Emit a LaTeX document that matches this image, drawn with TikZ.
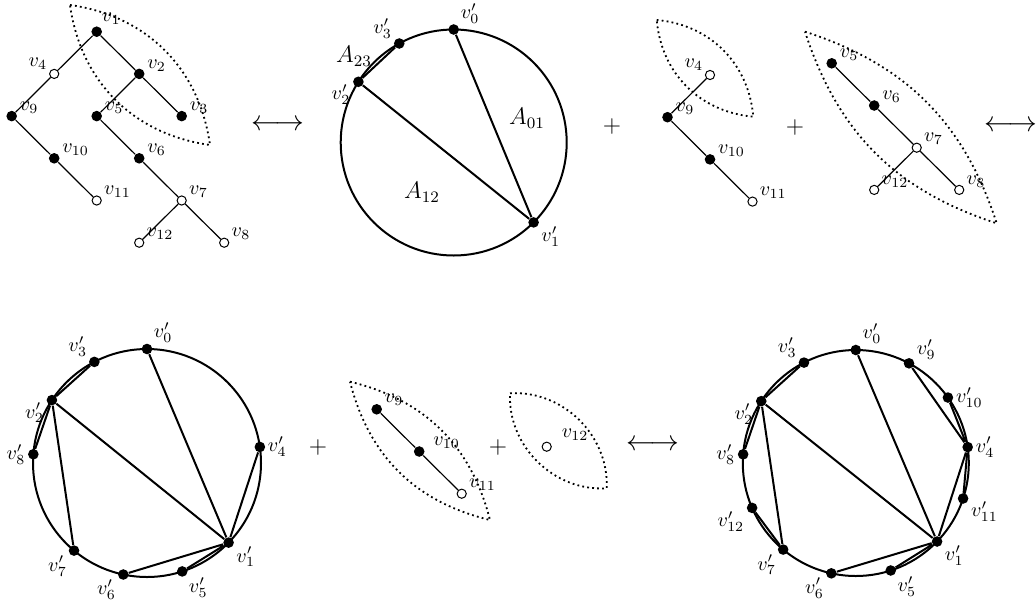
\documentclass[tikz,border=0pt]{standalone}
\usepackage{amsmath}
\usetikzlibrary{positioning}

\begin{document}
\begin{tikzpicture}[x=0.5pt,y=-0.5pt,node distance=21.1pt and 21.25pt,on grid,
        fdot/.style={circle,fill=black,inner sep=0pt,minimum size=5.3pt},
        odot/.style={circle,draw,fill=white,inner sep=0pt,minimum size=4.6pt,line width=0.5pt},
        tedge/.style={line width=0.6pt},
        cedge/.style={line width=1pt},
        lens/.style={line width=0.9pt,dash pattern=on 0.9pt off 1.6pt},
        every label/.style={inner sep=1pt}]
        \useasboundingbox (0,0) rectangle (1036,600);

        % first tree
        \node (a1) [fdot,label=60:$v_1$] at (96.7,31.7) {};
        \node (a4) [odot,label=155:$v_4$,below left=of a1] {};
        \node (a2) [fdot,label=5:$v_2$,below right=of a1] {};
        \node (a9) [fdot,label=5:$v_9$,below left=of a4] {};
        \node (a5) [fdot,label=5:$v_5$,below left=of a2] {};
        \node (a3) [fdot,label=5:$v_3$,below right=of a2] {};
        \node (a10) [fdot,label=5:$v_{10}$,below right=of a9] {};
        \node (a6) [fdot,label=5:$v_6$,below right=of a5] {};
        \node (a11) [odot,label=5:$v_{11}$,below right=of a10] {};
        \node (a7) [odot,label=5:$v_7$,below right=of a6] {};
        \node (a12) [odot,label=5:$v_{12}$,below left=of a7] {};
        \node (a8) [odot,label=5:$v_8$,below right=of a7] {};
        \draw[tedge] (a1) -- (a4) (a1) -- (a2) (a4) -- (a9) (a2) -- (a5) (a2) -- (a3);
        \draw[tedge] (a9) -- (a10) (a10) -- (a11) (a5) -- (a6) (a6) -- (a7) (a7) -- (a12) (a7) -- (a8);
        \draw[lens] (70,5) to[bend left=37] (210,145) to[bend left=37] (70,5);

        \node (arr1) [font=\Large] at (278,125) {$\longleftrightarrow$};

        % first circle
        \begin{scope}[shift={(453.7,142.5)}]
            \draw[cedge] (0,0) circle (56.5pt);
            \node (p0) [fdot,label=35:$v'_0$] at (90:56.5pt) {};
            \node (p3) [fdot,label=150:$v'_3$] at (118.8:56.5pt) {};
            \node (p2) [fdot,label=185:$v'_2$] at (147.5:56.5pt) {};
            \node (p1) [fdot,label=-20:$v'_1$] at (-45:56.5pt) {};
        \end{scope}
        \draw[cedge] (p0) -- (p1) (p2) -- (p1) (p2) -- (p3);
        \node (a23) [font=\large] at (354,56) {$A_{23}$};
        \node (a01) [font=\large] at (527,118) {$A_{01}$};
        \node (a12l) [font=\large] at (422,192) {$A_{12}$};

        \node (plus1) [font=\large] at (612,126) {$+$};

        % second tree
        \node (b4) [odot,label=150:$v_4$] at (710,75) {};
        \node (b9) [fdot,label=5:$v_9$,below left=of b4] {};
        \node (b10) [fdot,label=5:$v_{10}$,below right=of b9] {};
        \node (b11) [odot,label=5:$v_{11}$,below right=of b10] {};
        \draw[tedge] (b4) -- (b9) (b9) -- (b10) (b10) -- (b11);
        \draw[lens] (656.7,20) to[bend left=40] (753.3,116.7) to[bend left=40] (656.7,20);

        \node (plus2) [font=\large] at (795,127) {$+$};

        % third tree
        \node (c5) [fdot,label=5:$v_5$] at (831.7,63.3) {};
        \node (c6) [fdot,label=5:$v_6$,below right=of c5] {};
        \node (c7) [odot,label=5:$v_7$,below right=of c6] {};
        \node (c12) [odot,label=5:$v_{12}$,below left=of c7] {};
        \node (c8) [odot,label=5:$v_8$,below right=of c7] {};
        \draw[tedge] (c5) -- (c6) (c6) -- (c7) (c7) -- (c12) (c7) -- (c8);
        \draw[lens] (805,31.7) to[bend left=27] (996.7,223.3) to[bend left=27] (805,31.7);

        \node (arr2) [font=\Large] at (1011,126) {$\longleftrightarrow$};

        % second circle
        \begin{scope}[shift={(147,463)}]
            \draw[cedge] (0,0) circle (57pt);
            \node (q0) [fdot,label=40:$v'_0$] at (90:57pt) {};
            \node (q3) [fdot,label=150:$v'_3$] at (117.5:57pt) {};
            \node (q2) [fdot,label=185:$v'_2$] at (146.5:57pt) {};
            \node (q8) [fdot,label=180:$v'_8$] at (175.6:57pt) {};
            \node (q7) [fdot,label=212:$v'_7$] at (230.2:57pt) {};
            \node (q6) [fdot,label=205:$v'_6$] at (258:57pt) {};
            \node (q5) [fdot,label=-40:$v'_5$] at (288:57pt) {};
            \node (q1) [fdot,label=-20:$v'_1$] at (-44.3:57pt) {};
            \node (q4) [fdot,label=0:$v'_4$] at (8.1:57pt) {};
        \end{scope}
        \draw[cedge] (q0) -- (q1) (q2) -- (q1) (q2) -- (q3) (q2) -- (q8) (q2) -- (q7);
        \draw[cedge] (q1) -- (q6) (q1) -- (q5) (q1) -- (q4);

        \node (plus3) [font=\large] at (318,447) {$+$};

        % fourth tree
        \node (d9) [fdot,label=10:$v_9$] at (376.7,409.3) {};
        \node (d10) [fdot,label={[label distance=3pt]5:$v_{10}$},below right=of d9] {};
        \node (d11) [odot,label=5:$v_{11}$,below right=of d10] {};
        \draw[tedge] (d9) -- (d10) (d10) -- (d11);
        \draw[lens] (350,381.7) to[bend left=31] (490,520) to[bend left=31] (350,381.7);

        \node (plus4) [font=\large] at (498,447) {$+$};

        \node (e12) [odot,label={[label distance=4pt]15:$v_{12}$}] at (546.7,446.7) {};
        \draw[lens] (510,393.3) to[bend left=48] (606.7,488.3) to[bend left=48] (510,393.3);

        \node (arr3) [font=\Large] at (653,445) {$\longleftrightarrow$};

        % third circle
        \begin{scope}[shift={(855.8,463)}]
            \draw[cedge] (0,0) circle (56.5pt);
            \node (r0) [fdot,label=40:$v'_0$] at (90:56.5pt) {};
            \node (r9) [fdot,label=15:$v'_9$] at (61.9:56.5pt) {};
            \node (r3) [fdot,label=150:$v'_3$] at (117.3:56.5pt) {};
            \node (r2) [fdot,label=185:$v'_2$] at (146.8:56.5pt) {};
            \node (r10) [fdot,label=0:$v'_{10}$] at (35.4:56.5pt) {};
            \node (r4) [fdot,label=0:$v'_4$] at (8.1:56.5pt) {};
            \node (r8) [fdot,label=180:$v'_8$] at (175.6:56.5pt) {};
            \node (r11) [fdot,label=-10:$v'_{11}$] at (-18.3:56.5pt) {};
            \node (r12) [fdot,label=195:$v'_{12}$] at (203.4:56.5pt) {};
            \node (r7) [fdot,label=212:$v'_7$] at (230:56.5pt) {};
            \node (r6) [fdot,label=205:$v'_6$] at (257.5:56.5pt) {};
            \node (r5) [fdot,label=-40:$v'_5$] at (288:56.5pt) {};
            \node (r1) [fdot,label=-20:$v'_1$] at (-44:56.5pt) {};
        \end{scope}
        \draw[cedge] (r0) -- (r1) (r2) -- (r1) (r2) -- (r3) (r2) -- (r8) (r2) -- (r7);
        \draw[cedge] (r1) -- (r6) (r1) -- (r5) (r1) -- (r4);
        \draw[cedge] (r4) -- (r9) (r4) -- (r10) (r4) -- (r11) (r7) -- (r12);
    \end{tikzpicture}
\end{document}
